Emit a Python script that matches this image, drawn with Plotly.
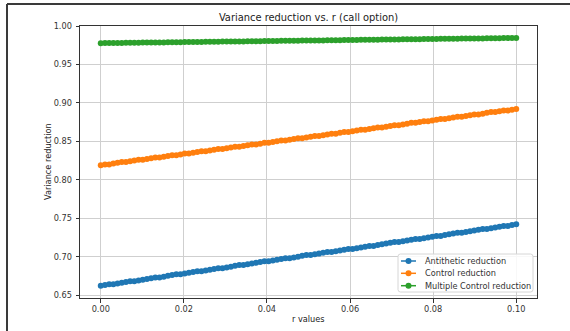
import numpy as np
import plotly.graph_objects as go

# interest-rate grid
r_values = np.linspace(0.0, 0.1, 100)

antithetic_reduction = [
    0.662, 0.663, 0.664, 0.664, 0.665, 0.666, 0.667, 0.668, 0.668, 0.669,
    0.670, 0.671, 0.672, 0.673, 0.673, 0.674, 0.675, 0.676, 0.677, 0.677,
    0.678, 0.679, 0.680, 0.681, 0.681, 0.682, 0.683, 0.684, 0.685, 0.685,
    0.686, 0.687, 0.688, 0.689, 0.689, 0.690, 0.691, 0.692, 0.693, 0.694,
    0.694, 0.695, 0.696, 0.697, 0.698, 0.698, 0.699, 0.700, 0.701, 0.702,
    0.702, 0.703, 0.704, 0.705, 0.706, 0.706, 0.707, 0.708, 0.709, 0.710,
    0.710, 0.711, 0.712, 0.713, 0.714, 0.714, 0.715, 0.716, 0.717, 0.718,
    0.719, 0.719, 0.720, 0.721, 0.722, 0.723, 0.723, 0.724, 0.725, 0.726,
    0.727, 0.727, 0.728, 0.729, 0.730, 0.731, 0.731, 0.732, 0.733, 0.734,
    0.735, 0.736, 0.736, 0.737, 0.738, 0.739, 0.740, 0.740, 0.741, 0.742,
]

control_reduction = [
    0.819, 0.820, 0.820, 0.821, 0.822, 0.823, 0.823, 0.824, 0.825, 0.826,
    0.826, 0.827, 0.828, 0.829, 0.829, 0.830, 0.831, 0.832, 0.832, 0.833,
    0.834, 0.834, 0.835, 0.836, 0.837, 0.837, 0.838, 0.839, 0.840, 0.840,
    0.841, 0.842, 0.843, 0.843, 0.844, 0.845, 0.846, 0.846, 0.847, 0.848,
    0.848, 0.849, 0.850, 0.851, 0.851, 0.852, 0.853, 0.854, 0.854, 0.855,
    0.856, 0.857, 0.857, 0.858, 0.859, 0.860, 0.860, 0.861, 0.862, 0.862,
    0.863, 0.864, 0.865, 0.865, 0.866, 0.867, 0.868, 0.868, 0.869, 0.870,
    0.871, 0.871, 0.872, 0.873, 0.874, 0.874, 0.875, 0.876, 0.876, 0.877,
    0.878, 0.879, 0.879, 0.880, 0.881, 0.882, 0.882, 0.883, 0.884, 0.885,
    0.885, 0.886, 0.887, 0.888, 0.888, 0.889, 0.890, 0.890, 0.891, 0.892,
]

multiple_control_reduction = [
    0.9777, 0.9778, 0.9778, 0.9779, 0.9780, 0.9780, 0.9781, 0.9782, 0.9782, 0.9783,
    0.9784, 0.9785, 0.9785, 0.9786, 0.9787, 0.9787, 0.9788, 0.9789, 0.9789, 0.9790,
    0.9791, 0.9792, 0.9792, 0.9793, 0.9793, 0.9794, 0.9795, 0.9796, 0.9796, 0.9797,
    0.9798, 0.9798, 0.9799, 0.9800, 0.9800, 0.9801, 0.9802, 0.9802, 0.9803, 0.9804,
    0.9805, 0.9805, 0.9806, 0.9807, 0.9807, 0.9808, 0.9809, 0.9809, 0.9810, 0.9811,
    0.9811, 0.9812, 0.9813, 0.9813, 0.9814, 0.9815, 0.9815, 0.9816, 0.9817, 0.9817,
    0.9818, 0.9819, 0.9820, 0.9820, 0.9821, 0.9822, 0.9822, 0.9823, 0.9824, 0.9824,
    0.9825, 0.9826, 0.9827, 0.9827, 0.9828, 0.9828, 0.9829, 0.9830, 0.9830, 0.9831,
    0.9832, 0.9833, 0.9833, 0.9834, 0.9835, 0.9835, 0.9836, 0.9837, 0.9837, 0.9838,
    0.9839, 0.9839, 0.9840, 0.9841, 0.9841, 0.9842, 0.9843, 0.9843, 0.9844, 0.9845,
]

series = [
    ("Antithetic reduction", antithetic_reduction, "#1f77b4"),
    ("Control reduction", control_reduction, "#ff7f0e"),
    ("Multiple Control reduction", multiple_control_reduction, "#2ca02c"),
]

x_ticks = [0.00, 0.02, 0.04, 0.06, 0.08, 0.10]
y_ticks = [0.65, 0.70, 0.75, 0.80, 0.85, 0.90, 0.95, 1.00]

W, H = 570, 331
L, R, T, B = 80, 33, 26, 33
FONT = "DejaVu Sans"

fig = go.Figure()
for name, vals, color in series:
    fig.add_trace(go.Scatter(
        x=r_values, y=vals, name=name, mode="lines+markers",
        line=dict(color=color, width=1.5),
        marker=dict(color=color, size=6),
        showlegend=False,
    ))

axis_common = dict(
    showline=True, mirror=True, linecolor="#333333", linewidth=1,
    ticks="outside", ticklen=3.5, tickcolor="#333333", tickwidth=1,
    showgrid=True, gridcolor="#cfcfcf", gridwidth=1, zeroline=False,
    tickfont=dict(family=FONT, size=8.2, color="#333333"),
    tickformat=".2f", automargin=False,
)

fig.update_layout(
    width=W, height=H,
    margin=dict(l=L, r=R, t=T, b=B, autoexpand=False),
    paper_bgcolor="white", plot_bgcolor="white",
    title=dict(text="Variance reduction vs. r (call option)",
               x=(L + (W - R)) / 2 / W, xanchor="center",
               y=1 - 17.5 / H, yanchor="middle",
               font=dict(family=FONT, size=9.9, color="#222222")),
    xaxis=dict(axis_common, range=[-0.005, 0.105], tickvals=x_ticks,
               ticklabelstandoff=0),
    yaxis=dict(axis_common, range=[0.6462, 1.0], tickvals=y_ticks,
               ticklabelstandoff=2),
    showlegend=False,
)

# pixel helpers for paper-referenced decorations
pw, ph = W - L - R, H - T - B
def px_x(p):
    return (p - L) / pw
def px_y(p):
    return 1 - (p - T) / ph

# axis titles
fig.add_annotation(xref="paper", yref="paper", x=px_x(308.5), y=px_y(319),
                   xanchor="center", yanchor="middle", showarrow=False,
                   text="r values", font=dict(family=FONT, size=8.2, color="#222222"))
fig.add_annotation(xref="paper", yref="paper", x=px_x(48), y=px_y(162),
                   xanchor="center", yanchor="middle", showarrow=False, textangle=-90,
                   text="Variance reduction", font=dict(family=FONT, size=8.2, color="#222222"))

def rounded_box(x0, y0, x1, y1, rad):
    # closed SVG path in paper units, corners given in pixels
    pts = [
        f"M {px_x(x0 + rad)},{px_y(y0)}",
        f"L {px_x(x1 - rad)},{px_y(y0)}",
        f"Q {px_x(x1)},{px_y(y0)} {px_x(x1)},{px_y(y0 + rad)}",
        f"L {px_x(x1)},{px_y(y1 - rad)}",
        f"Q {px_x(x1)},{px_y(y1)} {px_x(x1 - rad)},{px_y(y1)}",
        f"L {px_x(x0 + rad)},{px_y(y1)}",
        f"Q {px_x(x0)},{px_y(y1)} {px_x(x0)},{px_y(y1 - rad)}",
        f"L {px_x(x0)},{px_y(y0 + rad)}",
        f"Q {px_x(x0)},{px_y(y0)} {px_x(x0 + rad)},{px_y(y0)}",
        "Z",
    ]
    return " ".join(pts)

# legend box in the lower-right corner
fig.add_shape(type="path", xref="paper", yref="paper",
              path=rounded_box(398, 254, 533, 292, 2.5),
              line=dict(color="#d6d6d6", width=1),
              fillcolor="rgba(255,255,255,0.85)", layer="above")
legend_rows = [261, 273.3, 285.7]
for (name, _, color), row in zip(series, legend_rows):
    fig.add_shape(type="line", xref="paper", yref="paper",
                  x0=px_x(401), x1=px_x(416), y0=px_y(row), y1=px_y(row),
                  line=dict(color=color, width=1.5), layer="above")
    fig.add_shape(type="circle", xref="paper", yref="paper",
                  xsizemode="pixel", ysizemode="pixel",
                  xanchor=px_x(408.5), yanchor=px_y(row),
                  x0=-3, x1=3, y0=-3, y1=3,
                  line=dict(color=color, width=0), fillcolor=color, layer="above")
    fig.add_annotation(xref="paper", yref="paper", x=px_x(423), y=px_y(row),
                       xanchor="left", yanchor="middle", showarrow=False,
                       text=name, font=dict(family=FONT, size=8.2, color="#333333"))

# notebook output frame (top and left edges)
fig.add_shape(type="line", xref="paper", yref="paper",
              x0=px_x(7), x1=px_x(W + 5), y0=px_y(4), y1=px_y(4),
              line=dict(color="#3a3a3a", width=2))
fig.add_shape(type="line", xref="paper", yref="paper",
              x0=px_x(7), x1=px_x(7), y0=px_y(4), y1=px_y(H + 5),
              line=dict(color="#3a3a3a", width=2))

fig.write_html("out.html")
